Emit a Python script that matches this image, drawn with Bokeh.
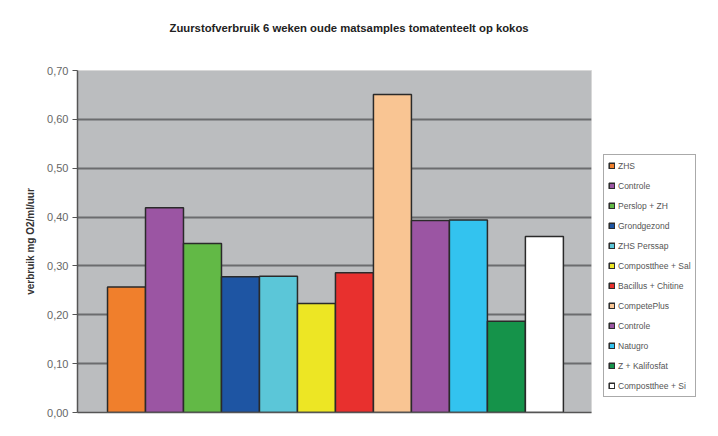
from bokeh.plotting import figure
from bokeh.models import (ColumnDataSource, Range1d, FixedTicker, CustomJSTickFormatter,
                          Legend, LegendItem, Title, LinearAxis)
from bokeh.embed import file_html
from bokeh.resources import INLINE

categories = ["ZHS", "Controle", "Perslop + ZH", "Grondgezond", "ZHS Perssap",
              "Compostthee + Sal", "Bacillus + Chitine", "CompetePlus", "Controle",
              "Natugro", "Z + Kalifosfat", "Compostthee + Si"]
values = [0.257, 0.419, 0.346, 0.278, 0.279, 0.223, 0.286, 0.651, 0.393, 0.394, 0.187, 0.360]
colors = ["#F07F2C", "#9B55A3", "#62B946", "#1E55A3", "#5BC6D8", "#EDE624",
          "#E8302E", "#F9C593", "#9B55A3", "#33C3EF", "#15934A", "#FFFFFF"]
y_ticks = [0.0, 0.1, 0.2, 0.3, 0.4, 0.5, 0.6, 0.7]

src = ColumnDataSource(dict(x=list(range(len(values))), top=values, color=colors, name=categories))

p = figure(frame_width=514, frame_height=342, output_backend="svg", toolbar_location=None,
           x_range=Range1d(-1.29, len(values) - 0.5 + 0.74), y_range=Range1d(0, 0.70),
           min_border_left=77, min_border_right=119, min_border_top=70, min_border_bottom=16)

p.background_fill_color = "#BBBDBF"
p.border_fill_color = "white"
p.outline_line_color = "#D8D8D8"

r = p.vbar(x="x", top="top", width=1.0, bottom=0, fill_color="color",
           line_color="#2A2A2A", line_width=1.5, source=src)

p.xaxis.visible = False
p.xgrid.visible = False
p.ygrid.grid_line_color = "#6B6C6E"
p.ygrid.grid_line_width = 2

ya = p.yaxis[0]
ya.ticker = FixedTicker(ticks=y_ticks)
ya.formatter = CustomJSTickFormatter(code="return tick.toFixed(2).replace('.', ',');")
ya.major_label_text_font = "Liberation Sans"
ya.major_label_text_font_size = "11px"
ya.major_label_text_color = "#666666"
ya.major_label_standoff = 4
ya.major_tick_out = 5
ya.major_tick_in = 0
ya.minor_tick_out = 0
ya.minor_tick_in = 0
ya.major_tick_line_color = "#555555"
ya.axis_line_color = "#555555"
ya.axis_line_width = 1.5
ya.axis_label = "verbruik mg O2/ml/uur"
ya.axis_label_text_font = "Liberation Sans"
ya.axis_label_text_font_style = "bold"
ya.axis_label_text_font_size = "10px"
ya.axis_label_text_color = "#333333"
ya.axis_label_standoff = 8

bx = LinearAxis(ticker=FixedTicker(ticks=[]), major_label_text_font_size="0px",
                axis_line_color="#555555", axis_line_width=1.5,
                major_tick_out=0, minor_tick_out=0)
p.add_layout(bx, "below")

items = [LegendItem(label=name, renderers=[r], index=i) for i, name in enumerate(categories)]
legend = Legend(items=items, location=(12, 15), margin=0, padding=4,
                spacing=7, label_height=13, glyph_height=7, glyph_width=7,
                label_standoff=3, label_text_font="Liberation Sans",
                label_text_font_size="8.5px", label_text_color="#555555",
                border_line_color="#555555", border_line_width=1,
                background_fill_color="white", background_fill_alpha=1.0)
p.add_layout(legend, "right")

# spacer (nearest the frame) then the real title above it
p.add_layout(Title(text=" ", standoff=23, text_font_size="11.3px"), "above")
p.add_layout(Title(text="Zuurstofverbruik 6 weken oude matsamples tomatenteelt op kokos",
                   align="left", offset=92, standoff=0,
                   text_font="Liberation Sans", text_font_style="bold", text_font_size="11.3px",
                   text_color="#222222"), "above")

open("out.html", "w").write(file_html(p, INLINE))
